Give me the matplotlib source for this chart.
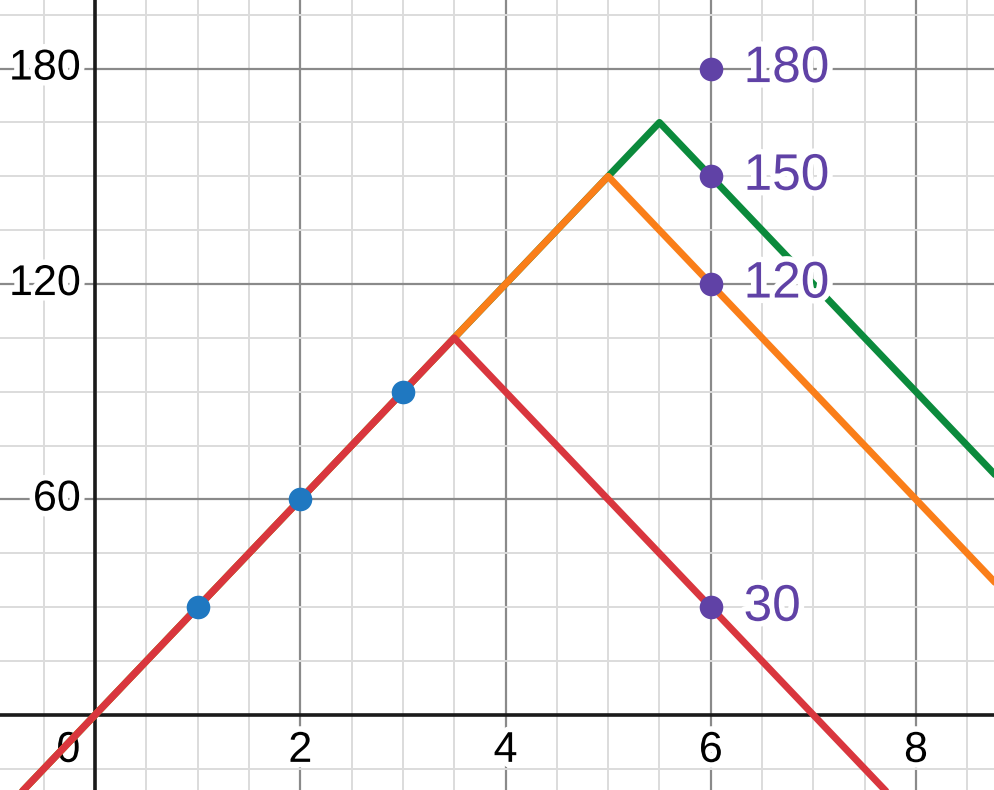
import numpy as np
import matplotlib.pyplot as plt
import matplotlib.patheffects as pe

# piecewise-linear curves (vertices)
red_x = [-1.0, 3.5, 9.0]
red_y = [-30, 105, -60]
orange_x = [-1.0, 5.0, 9.0]
orange_y = [-30, 150, 30]
green_x = [-1.0, 5.5, 9.0]
green_y = [-30, 165, 60]

# data points
blue_x = [1, 2, 3]
blue_y = [30, 60, 90]
purple_x = [6, 6, 6, 6]
purple_y = [30, 120, 150, 180]
purple_labels = ["30", "120", "150", "180"]

x_ticks = [0, 2, 4, 6, 8]
y_ticks = [60, 120, 180]

RED = "#d9363e"
ORANGE = "#fa7e19"
GREEN = "#0b8a3c"
BLUE = "#1f78c1"
PURPLE = "#6042a6"

plt.rcParams["font.family"] = ["Liberation Sans", "DejaVu Sans"]

fig = plt.figure(figsize=(9.94, 7.9), dpi=100)
ax = fig.add_axes([0, 0, 1, 1])
ax.set_xlim(-0.926, 8.76)
ax.set_ylim(-20.9, 199.1)
for s in ax.spines.values():
    s.set_visible(False)
ax.set_xticks([])
ax.set_yticks([])

# grid
for xv in np.arange(-0.5, 9.01, 0.5):
    major = abs(xv / 2 - round(xv / 2)) < 1e-9
    ax.axvline(xv, color="#8a8a8a" if major else "#dcdcdc", lw=1.6 if major else 1.4, zorder=1)
for yv in np.arange(-15, 200, 15):
    major = yv % 60 == 0
    ax.axhline(yv, color="#8a8a8a" if major else "#dcdcdc", lw=1.6 if major else 1.4, zorder=1)
ax.axvline(0, color="#1a1a1a", lw=2.6, zorder=2)
ax.axhline(0, color="#1a1a1a", lw=2.6, zorder=2)

halo = [pe.withStroke(linewidth=8, foreground="white")]

# tick labels
for xv in x_ticks:
    if xv == 0:
        ax.text(-0.26, -10, "0", fontsize=31, ha="center", va="center",
                path_effects=halo, zorder=3)
    else:
        ax.text(xv, -10, str(xv), fontsize=31, ha="center", va="center",
                path_effects=halo, zorder=3)
for yv in y_ticks:
    ax.text(-0.14, yv, str(yv), fontsize=31, ha="right", va="center",
            path_effects=halo, zorder=3)

# curves
ax.plot(green_x, green_y, color=GREEN, lw=5, zorder=4, solid_capstyle="round")
ax.plot(orange_x, orange_y, color=ORANGE, lw=5, zorder=5, solid_capstyle="round")
ax.plot(red_x, red_y, color=RED, lw=5, zorder=6, solid_capstyle="round")

# points
ax.plot(blue_x, blue_y, "o", color=BLUE, ms=17, mew=0, zorder=7)
ax.plot(purple_x, purple_y, "o", color=PURPLE, ms=17, mew=0, zorder=7)
for xv, yv, lab in zip(purple_x, purple_y, purple_labels):
    ax.text(xv + 0.32, yv, lab, fontsize=37, color=PURPLE, ha="left", va="center",
            path_effects=halo, zorder=8)

fig.savefig("out.png", dpi=100)
